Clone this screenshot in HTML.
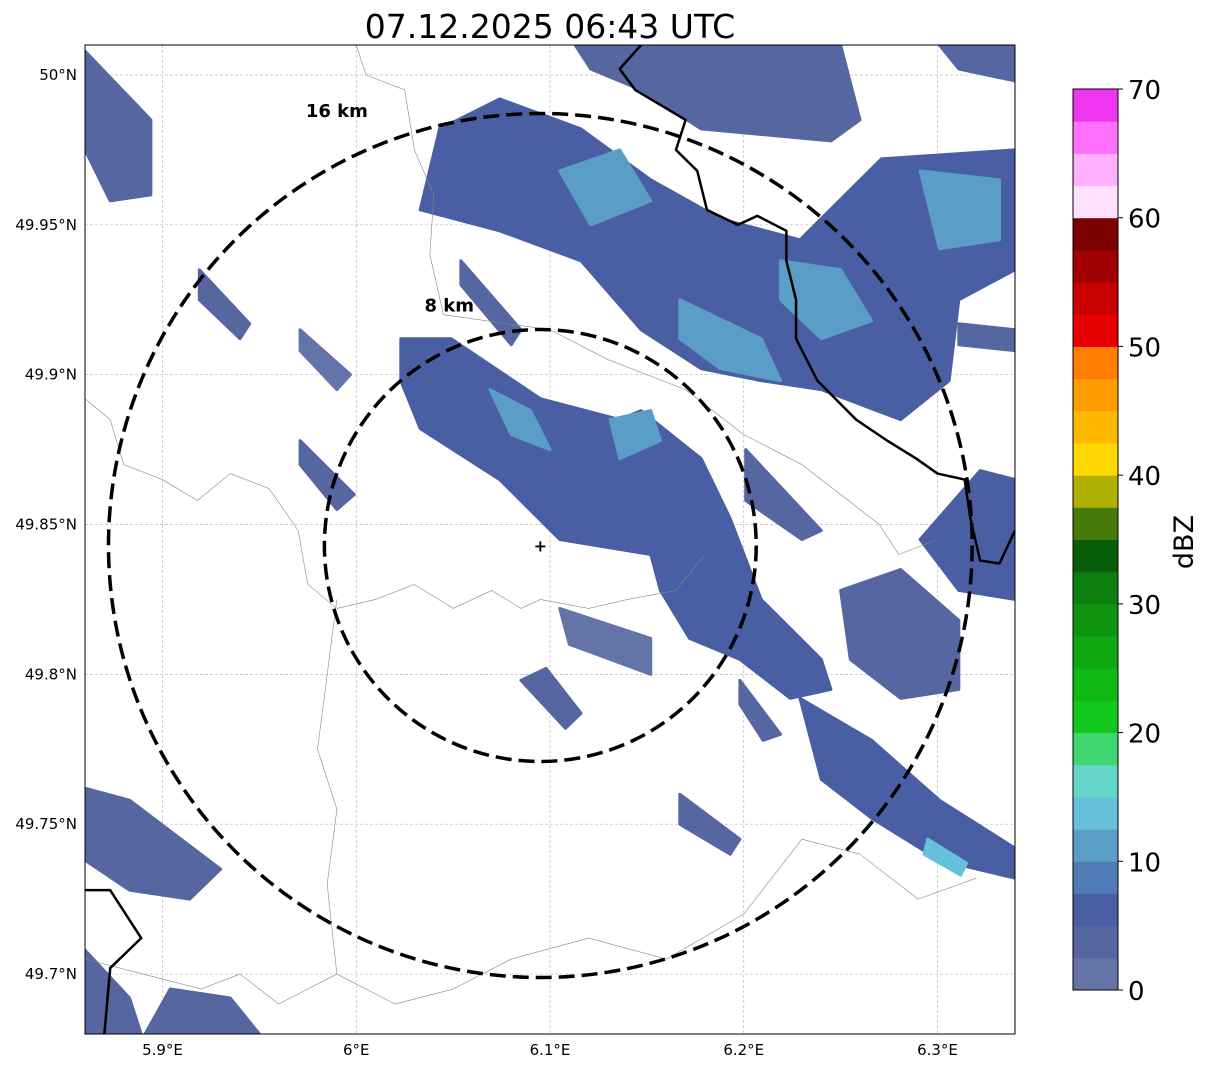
<!DOCTYPE html>
<html><head><meta charset="utf-8"><style>
body{margin:0;background:#fff;width:1207px;height:1069px;overflow:hidden}
svg text{font-family:"DejaVu Sans","Liberation Sans",sans-serif}
</style></head><body>
<svg id="chart" width="1207" height="1069" viewBox="0 0 1207 1069" xmlns="http://www.w3.org/2000/svg">
<text x="550" y="38" font-size="33" text-anchor="middle">07.12.2025 06:43 UTC</text>
<defs><clipPath id="mapclip"><rect x="85" y="45" width="930" height="989"/></clipPath></defs>
<g id="map" clip-path="url(#mapclip)"></g>
<rect x="85" y="45" width="930" height="989" fill="none" stroke="#000" stroke-width="1"/>
<g id="axes"></g>
<g id="cbar"></g>
</svg>
<script>
const lonTicks=[5.9,6.0,6.1,6.2,6.3];
const lonLabels=["5.9°E","6°E","6.1°E","6.2°E","6.3°E"];
const latTicks=[50.0,49.95,49.9,49.85,49.8,49.75,49.7];
const latLabels=["50°N","49.95°N","49.9°N","49.85°N","49.8°N","49.75°N","49.7°N"];
const cbarTicks=[0,10,20,30,40,50,60,70];
const binColors=["#6474a8","#5566a0","#4a5fa3","#4f7cb5","#5a9ec8","#67c0dc","#63d6c7","#3fd672","#13c81c","#10b814","#0fa812","#0f9410","#0c7f0e","#075c08","#477a0a","#b0b004","#ffd700","#ffb800","#ff9c00","#ff7d00","#e60000","#c80000","#a00000","#7b0000","#ffe0ff","#ffb0ff","#ff70ff","#f035f0"];
const radarLon=6.095, radarLat=49.843;
const rings=[8,16];
const ringLabels=["8 km","16 km"];
const ringLabelLon=[6.048,5.990];
const ringLabelLat=[49.921,49.986];
const echoDbz=[3,5,11,11,11,11,5,12,12,6,13,4,5,14,4,4,16,3,4,2,4,4,2,3,3,4,3,4,4,3];
const echoes=[
[[6.113,50.010],[6.250,50.010],[6.260,49.985],[6.245,49.978],[6.178,49.982],[6.147,49.995],[6.121,50.002]],
[[6.043,49.982],[6.074,49.992],[6.116,49.982],[6.152,49.965],[6.188,49.952],[6.229,49.945],[6.271,49.972],[6.340,49.975],[6.340,49.935],[6.311,49.925],[6.306,49.898],[6.281,49.885],[6.240,49.895],[6.209,49.898],[6.178,49.902],[6.147,49.915],[6.116,49.938],[6.074,49.948],[6.033,49.955]],
[[6.105,49.968],[6.136,49.975],[6.152,49.958],[6.121,49.950]],
[[6.219,49.938],[6.250,49.935],[6.266,49.918],[6.240,49.912],[6.219,49.925]],
[[6.291,49.968],[6.332,49.965],[6.332,49.945],[6.301,49.942]],
[[6.167,49.925],[6.209,49.912],[6.219,49.898],[6.188,49.902],[6.167,49.912]],
[[6.023,49.912],[6.049,49.912],[6.095,49.892],[6.136,49.885],[6.147,49.888],[6.178,49.872],[6.193,49.852],[6.209,49.825],[6.240,49.805],[6.245,49.795],[6.224,49.792],[6.198,49.805],[6.172,49.812],[6.157,49.828],[6.152,49.840],[6.105,49.845],[6.074,49.865],[6.033,49.882],[6.023,49.898]],
[[6.069,49.895],[6.090,49.888],[6.100,49.875],[6.080,49.880]],
[[6.131,49.885],[6.152,49.888],[6.157,49.878],[6.136,49.872]],
[[6.229,49.792],[6.266,49.778],[6.301,49.758],[6.340,49.742],[6.340,49.732],[6.301,49.738],[6.266,49.752],[6.240,49.765]],
[[6.295,49.745],[6.315,49.737],[6.312,49.733],[6.293,49.740]],
[[6.250,49.828],[6.281,49.835],[6.311,49.818],[6.311,49.795],[6.281,49.792],[6.255,49.805]],
[[6.291,49.845],[6.322,49.868],[6.340,49.865],[6.340,49.825],[6.311,49.828]],
[[5.860,49.755],[5.875,49.752],[5.878,49.742],[5.860,49.745]],
[[5.860,49.762],[5.883,49.758],[5.930,49.735],[5.914,49.725],[5.883,49.728],[5.860,49.738]],
[[5.860,49.708],[5.883,49.692],[5.889,49.680],[5.860,49.680]],
[[5.925,49.687],[5.937,49.683],[5.945,49.680],[5.922,49.680]],
[[5.904,49.695],[5.935,49.692],[5.950,49.680],[5.891,49.680]],
[[6.085,49.798],[6.098,49.802],[6.116,49.787],[6.108,49.782]],
[[6.105,49.822],[6.152,49.812],[6.152,49.800],[6.110,49.810]],
[[6.167,49.760],[6.198,49.745],[6.193,49.740],[6.167,49.750]],
[[6.201,49.875],[6.240,49.848],[6.230,49.845],[6.201,49.858]],
[[5.971,49.915],[5.997,49.900],[5.990,49.895],[5.971,49.908]],
[[5.971,49.878],[5.999,49.860],[5.990,49.855],[5.971,49.870]],
[[5.860,50.008],[5.894,49.985],[5.894,49.960],[5.873,49.958],[5.860,49.975]],
[[5.919,49.935],[5.945,49.917],[5.940,49.912],[5.919,49.925]],
[[6.054,49.938],[6.085,49.915],[6.080,49.910],[6.054,49.930]],
[[6.198,49.798],[6.219,49.780],[6.210,49.778],[6.198,49.790]],
[[6.311,49.917],[6.340,49.915],[6.340,49.908],[6.311,49.910]],
[[6.301,50.010],[6.340,50.010],[6.340,49.998],[6.311,50.002]]
];
const borderThick1=[[6.147,50.010],[6.136,50.002],[6.144,49.995],[6.170,49.985],[6.165,49.975],[6.176,49.968],[6.181,49.955],[6.197,49.950],[6.207,49.953],[6.222,49.948],[6.222,49.938],[6.227,49.925],[6.227,49.912],[6.238,49.898],[6.258,49.885],[6.274,49.878],[6.289,49.872],[6.300,49.867],[6.314,49.865],[6.317,49.852],[6.322,49.838],[6.332,49.837],[6.340,49.848]];
const borderThick2=[[5.860,49.728],[5.873,49.728],[5.889,49.712],[5.873,49.702],[5.870,49.680]];
const borderThin1=[[5.860,49.892],[5.873,49.885],[5.880,49.870],[5.900,49.865],[5.918,49.858],[5.935,49.867],[5.955,49.862],[5.970,49.848],[5.975,49.830],[5.990,49.822],[6.010,49.825],[6.030,49.830],[6.050,49.822],[6.070,49.828],[6.085,49.822],[6.095,49.825],[6.120,49.822],[6.140,49.825],[6.165,49.828],[6.180,49.840]];
const borderThin2=[[6.000,50.010],[6.005,50.0],[6.025,49.995],[6.030,49.975],[6.040,49.960],[6.038,49.940],[6.045,49.920],[6.100,49.915],[6.130,49.905],[6.170,49.895],[6.200,49.880],[6.230,49.870],[6.250,49.860],[6.270,49.850],[6.280,49.840],[6.300,49.845]];
const borderThin3=[[5.990,49.825],[5.985,49.800],[5.980,49.775],[5.990,49.755],[5.985,49.730],[5.990,49.700],[6.020,49.690],[6.050,49.695],[6.080,49.705],[6.120,49.712],[6.160,49.705],[6.200,49.720],[6.230,49.745],[6.260,49.740],[6.290,49.725],[6.320,49.732]];
const borderThin4=[[5.860,49.705],[5.890,49.700],[5.920,49.695],[5.940,49.700],[5.960,49.690],[5.990,49.700]];

const X0=85,X1=1015,Y0=45,Y1=1034;
const lonMin=5.860,lonMax=6.340,latMin=49.680,latMax=50.010;
const xs=lon=>X0+(lon-lonMin)/(lonMax-lonMin)*(X1-X0);
const ys=lat=>Y0+(latMax-lat)/(latMax-latMin)*(Y1-Y0);
const kmX=1/(111.32*Math.cos(radarLat*Math.PI/180)), kmY=1/111.0;
const NS="http://www.w3.org/2000/svg";
function mk(tag,attrs,parent){const e=document.createElementNS(NS,tag);for(const k in attrs)e.setAttribute(k,attrs[k]);parent.appendChild(e);return e;}
const map=document.getElementById('map'), axes=document.getElementById('axes'), cbar=document.getElementById('cbar');
function colorFor(d){return binColors[Math.max(0,Math.min(binColors.length-1,Math.floor(d/2.5)))];}
lonTicks.forEach((t,i)=>{
 const g=mk('line',{x1:xs(t),x2:xs(t),y1:Y0,y2:Y1,stroke:'#bbb','stroke-width':0.7,'stroke-dasharray':'3,2'},map);
 
 
 const tx=mk('text',{x:xs(t),y:1055,'font-size':15,'text-anchor':'middle'},axes);
 tx.textContent=lonLabels[i];
 
 
});
latTicks.forEach((t,i)=>{
 const g=mk('line',{x1:X0,x2:X1,y1:ys(t),y2:ys(t),stroke:'#bbb','stroke-width':0.7,'stroke-dasharray':'3,2'},map);
 
 
 const tx=mk('text',{x:77,y:ys(t)+5,'font-size':15,'text-anchor':'end'},axes);
 tx.textContent=latLabels[i];
 
 
});
echoes.forEach((poly,i)=>{
 const c=colorFor(echoDbz[i]);
 const p=mk('polygon',{points:poly.map(v=>xs(v[0])+','+ys(v[1])).join(' '),fill:c,stroke:c,'stroke-width':3,'stroke-linejoin':'round'},map);
 
 
});
function line(pts,w,col,name){
 const p=mk('polyline',{points:pts.map(v=>xs(v[0])+','+ys(v[1])).join(' '),fill:'none',stroke:col,'stroke-width':w,'stroke-linejoin':'round'},map);
 
 
}
[borderThin1,borderThin2,borderThin3,borderThin4].forEach(b=>line(b,0.6,'#888','region-border'));
line(borderThick1,2.5,'#000','country-border');
line(borderThick2,2.5,'#000','country-border');
const cx=xs(radarLon), cy=ys(radarLat);
rings.forEach((r,i)=>{
 const e=mk('ellipse',{cx:cx,cy:cy,rx:xs(radarLon+r*kmX)-cx,ry:ys(radarLat-r*kmY)-cy,fill:'none',stroke:'#000','stroke-width':3.5,'stroke-dasharray':'16,7'},map);
 
 
 const t=mk('text',{x:xs(ringLabelLon[i]),y:ys(ringLabelLat[i]),'font-size':18,'font-weight':'bold','text-anchor':'middle'},map);
 t.textContent=ringLabels[i];
 
 
});
const m=mk('text',{x:cx,y:cy+6,'font-size':16,'font-weight':'bold','text-anchor':'middle'},map);
m.textContent='+';


const CB={x:1073,w:45,top:89,bot:990};
const cy0=v=>CB.bot-(v/70)*(CB.bot-CB.top);
binColors.forEach((c,i)=>{
 const r=mk('rect',{x:CB.x,y:cy0((i+1)*2.5),width:CB.w,height:cy0(i*2.5)-cy0((i+1)*2.5)+0.5,fill:c},cbar);
 
 
});
const fr=mk('rect',{x:CB.x,y:CB.top,width:CB.w,height:CB.bot-CB.top,fill:'none',stroke:'#000','stroke-width':1},cbar);


cbarTicks.forEach(t=>{
 mk('line',{x1:CB.x+CB.w,x2:CB.x+CB.w+5,y1:cy0(t),y2:cy0(t),stroke:'#000'},cbar);
 const tx=mk('text',{x:1128,y:cy0(t)+10,'font-size':26},cbar);
 tx.textContent=t;
 
 
});
const lb=mk('text',{x:1193,y:542,'font-size':27,'text-anchor':'middle',transform:'rotate(-90 1193 542)'},cbar);
lb.textContent='dBZ';


</script>
</body></html>
